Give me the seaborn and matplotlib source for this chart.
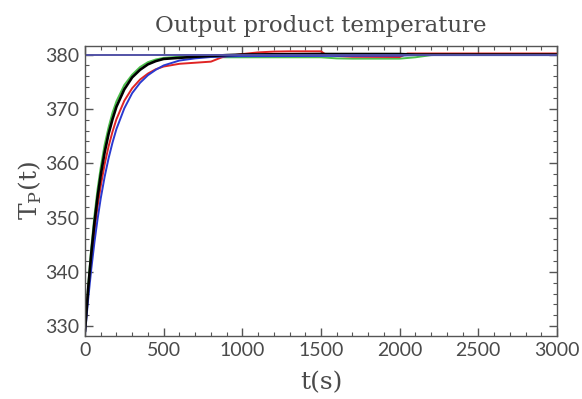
import matplotlib
matplotlib.use("Agg")
import matplotlib.pyplot as plt
from matplotlib.ticker import MultipleLocator
import seaborn as sns

# ---- data ----
t_rise = [0, 20, 40, 60, 80, 100, 125, 150, 175, 200, 250, 300, 350, 400,
          450, 500, 600, 700, 800, 900, 1000]

t_black = t_rise + [1200, 1500, 2000, 2100, 3000]
y_black = [329.0, 336.8, 343.4, 349.0, 353.8, 357.8, 362.0, 365.4, 368.1, 370.4,
           373.6, 375.8, 377.2, 378.2, 378.8, 379.2, 379.4, 379.6, 379.75, 379.9,
           380.0, 380.05, 380.1, 380.1, 380.0, 380.0]

t_green = t_rise + [1500, 1600, 1700, 2000, 2100, 2200, 2300, 3000]
y_green = [329.0, 337.4, 344.4, 350.3, 355.2, 359.2, 363.4, 366.6, 369.3, 371.4,
           374.4, 376.3, 377.7, 378.6, 379.1, 379.4, 379.6, 379.6, 379.55, 379.5,
           379.5, 379.5, 379.3, 379.25, 379.25, 379.5, 379.9, 380.0, 380.0]

t_red = [0, 20, 40, 60, 80, 100, 125, 150, 175, 200, 250, 300, 350, 400, 450,
         500, 600, 700, 800, 805, 870, 900, 1000, 1100, 1200, 1300, 1500, 1530,
         1600, 1700, 2000, 2050, 3000]
y_red = [329.0, 336.4, 342.4, 347.6, 352.0, 355.8, 359.8, 363.1, 365.8, 368.1,
         371.5, 373.8, 375.4, 376.5, 377.3, 377.8, 378.3, 378.5, 378.7, 378.75,
         379.5, 379.7, 380.1, 380.4, 380.55, 380.6, 380.6, 380.0, 379.75, 379.6,
         379.55, 380.2, 380.2]

t_blue = t_rise + [1500, 2000, 2100, 3000]
y_blue = [328.5, 334.9, 340.5, 345.4, 349.7, 353.5, 357.5, 360.9, 363.8, 366.3,
          370.1, 372.9, 374.8, 376.2, 377.2, 378.0, 378.9, 379.3, 379.55, 379.65,
          379.7, 379.75, 379.8, 379.9, 379.9]

t_set = [0, 3000]
y_set = [380.0, 380.0]

title = "Output product temperature"
xlabel = "t(s)"
ylabel = r"T$_\mathregular{P}$(t)"

# ---- plot ----
sns.set_theme(style="ticks")
plt.rcParams["font.family"] = ["Lato", "DejaVu Sans"]

fig = plt.figure(figsize=(5.82, 3.99), dpi=100)
ax = fig.add_axes([0.146, 0.158, 0.811, 0.727])

sns.lineplot(x=t_green, y=y_green, color="#4cc04c", lw=1.4, ax=ax, sort=False)
sns.lineplot(x=t_red, y=y_red, color="#e02424", lw=1.4, ax=ax, sort=False)
sns.lineplot(x=t_blue, y=y_blue, color="#2a3ad0", lw=1.4, ax=ax, sort=False)
sns.lineplot(x=t_black, y=y_black, color="#000000", lw=1.9, ax=ax, sort=False)
sns.lineplot(x=t_set, y=y_set, color="#5252a6", lw=1.4, ax=ax, sort=False)

ax.set_xlim(0, 3000)
ax.set_ylim(328.2, 381.6)
ax.xaxis.set_major_locator(MultipleLocator(500))
ax.xaxis.set_minor_locator(MultipleLocator(100))
ax.yaxis.set_major_locator(MultipleLocator(10))
ax.yaxis.set_minor_locator(MultipleLocator(2))

for s in ax.spines.values():
    s.set_color("#555555")
    s.set_linewidth(1.0)

ax.tick_params(which="both", direction="in", top=True, right=True,
               colors="#555555", labelcolor="#4a4a4a")
ax.tick_params(which="major", length=6, width=1.0, labelsize=14, pad=4)
ax.tick_params(which="minor", length=3, width=0.8)

ax.set_title(title, fontsize=16.5, color="#4a4a4a", pad=10,
             family=["DejaVu Serif"], fontweight="normal")
ax.set_xlabel(xlabel, fontsize=18, color="#4a4a4a", labelpad=9,
              family=["DejaVu Serif"])
ax.set_ylabel(ylabel, fontsize=18, color="#4a4a4a", labelpad=1,
              family=["DejaVu Serif"])

fig.savefig("out.png", dpi=100)
